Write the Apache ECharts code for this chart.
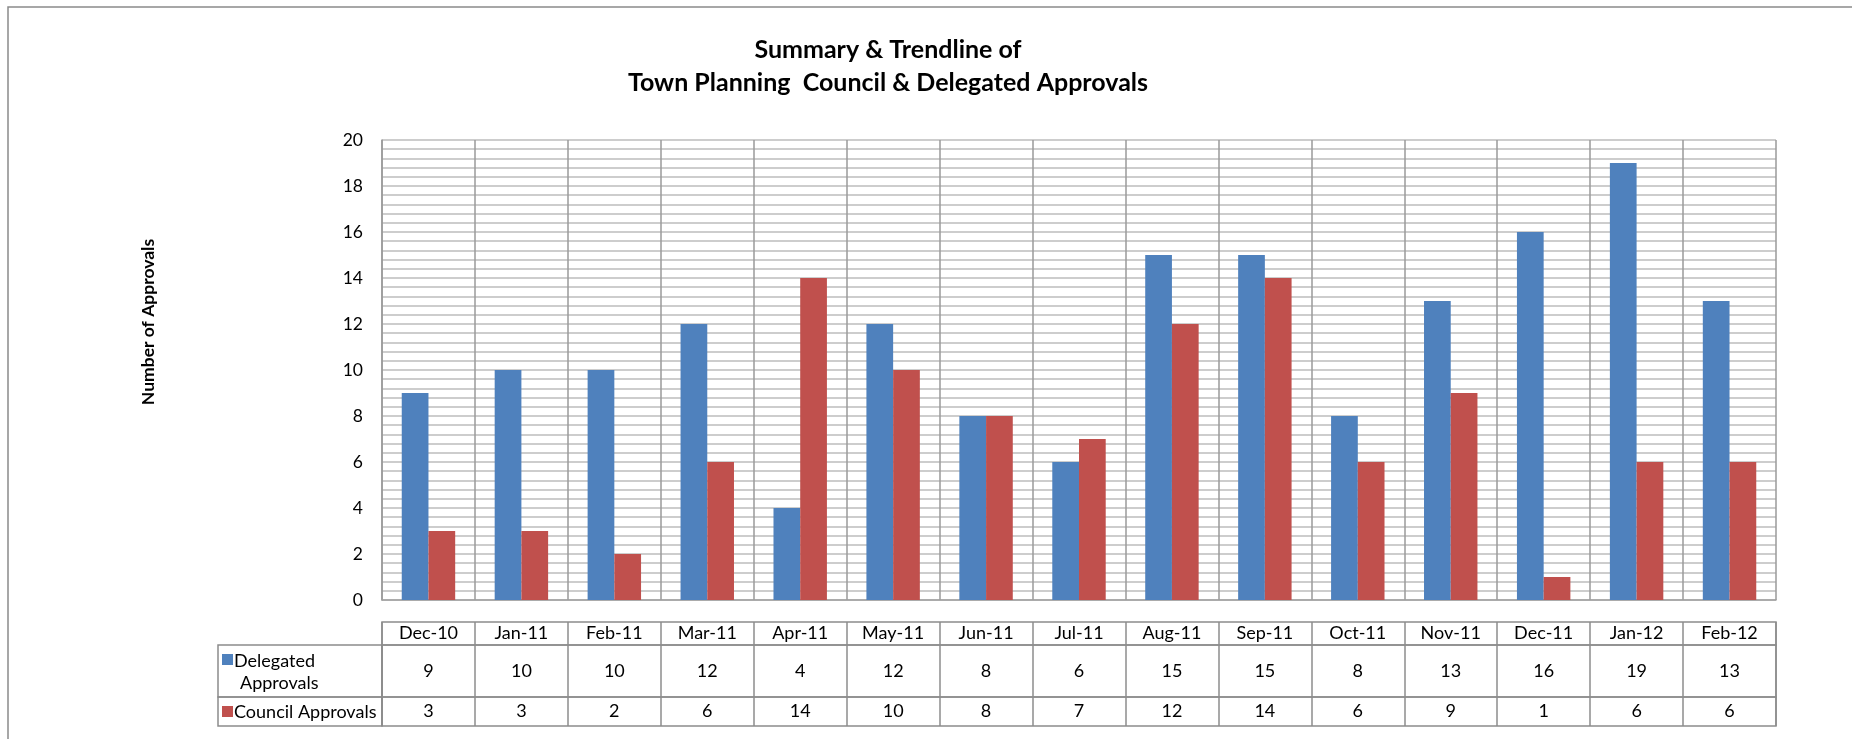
<!DOCTYPE html>
<html>
<head>
<meta charset="utf-8">
<title>Town Planning Approvals</title>
<script src="https://cdn.jsdelivr.net/npm/echarts@6/dist/echarts.min.js"></script>
<style>
  html, body { margin: 0; padding: 0; background: #ffffff; }
  #chart { width: 1852px; height: 739px; }
</style>
</head>
<body>
<div id="chart"></div>
<script>
// Monthly approvals, December 2010 to February 2012
const months = ['Dec-10', 'Jan-11', 'Feb-11', 'Mar-11', 'Apr-11', 'May-11', 'Jun-11', 'Jul-11',
                'Aug-11', 'Sep-11', 'Oct-11', 'Nov-11', 'Dec-11', 'Jan-12', 'Feb-12'];
const delegatedApprovals = [9, 10, 10, 12, 4, 12, 8, 6, 15, 15, 8, 13, 16, 19, 13];
const councilApprovals = [3, 3, 2, 6, 14, 10, 8, 7, 12, 14, 6, 9, 1, 6, 6];
const seriesNames = ['Delegated Approvals', 'Council Approvals'];
const seriesColors = ['#4F81BD', '#C0504D'];
const yTicks = { min: 0, max: 20, interval: 2 };

const FONT = 'Lato, "Open Sans", sans-serif';
const LINE = '#8c8c8c';

// Plot area and the three rows of the data table underneath it
const plotLeft = 382, plotWidth = 1394;
const plotTop = 140, plotHeight = 460;
const rows = [
  { top: 622, height: 23 },  // month headers
  { top: 645, height: 52 },  // delegated values
  { top: 697, height: 29 }   // council values
];
const legendLeft = 218;

const chart = echarts.init(document.getElementById('chart'), null, { renderer: 'canvas' });

// One table row: a grid whose category axis prints the cell texts
function tableAxis(gridIndex, labels, rowHeight) {
  return {
    type: 'category',
    gridIndex: gridIndex,
    data: labels,
    boundaryGap: true,
    axisLine: { show: false },
    axisTick: { show: false },
    splitLine: { show: true, interval: 0, lineStyle: { color: LINE, width: 1.5 } },
    axisLabel: {
      interval: 0,
      inside: true,
      margin: rowHeight / 2,
      verticalAlign: 'middle',
      color: '#000',
      fontFamily: FONT,
      fontSize: 18
    }
  };
}

const tableGrids = rows.map(r => ({
  left: plotLeft, top: r.top, width: plotWidth, height: r.height,
  show: true, borderColor: LINE, borderWidth: 1.5, backgroundColor: 'transparent'
}));

const option = {
  backgroundColor: '#ffffff',
  animation: false,
  title: {
    text: 'Summary & Trendline of\nTown Planning  Council & Delegated Approvals',
    left: 883,
    top: 28,
    textAlign: 'center',
    textStyle: { fontFamily: FONT, fontWeight: 'bold', fontSize: 25, lineHeight: 33, color: '#000' }
  },
  grid: [
    { left: plotLeft, top: plotTop, width: plotWidth, height: plotHeight, show: false },
    ...tableGrids
  ],
  xAxis: [
    {
      type: 'category',
      gridIndex: 0,
      data: months,
      boundaryGap: true,
      axisLine: { show: true, lineStyle: { color: '#a0a0a0', width: 1.5 } },
      axisTick: { show: false },
      axisLabel: { show: false },
      splitLine: { show: true, interval: 0, lineStyle: { color: '#9a9a9a', width: 1.5 } }
    },
    tableAxis(1, months, rows[0].height),
    tableAxis(2, delegatedApprovals.map(String), rows[1].height),
    tableAxis(3, councilApprovals.map(String), rows[2].height)
  ],
  yAxis: [
    {
      type: 'value',
      gridIndex: 0,
      min: yTicks.min,
      max: yTicks.max,
      interval: yTicks.interval,
      axisLine: { show: true, lineStyle: { color: '#9a9a9a', width: 1.5 } },
      axisTick: { show: false },
      axisLabel: { margin: 19, color: '#000', fontFamily: FONT, fontSize: 17.5 },
      splitLine: { show: true, lineStyle: { color: '#bdbdbd', width: 1.5 } },
      minorTick: { show: false, splitNumber: 5 },
      minorSplitLine: { show: true, lineStyle: { color: '#bdbdbd', width: 1.5 } }
    },
    { type: 'value', gridIndex: 1, show: false },
    { type: 'value', gridIndex: 2, show: false },
    { type: 'value', gridIndex: 3, show: false }
  ],
  series: [
    {
      name: seriesNames[0],
      type: 'bar',
      xAxisIndex: 0,
      yAxisIndex: 0,
      data: delegatedApprovals,
      barGap: '0%',
      barCategoryGap: '42.5%',
      itemStyle: { color: seriesColors[0] }
    },
    {
      name: seriesNames[1],
      type: 'bar',
      xAxisIndex: 0,
      yAxisIndex: 0,
      data: councilApprovals,
      barGap: '0%',
      barCategoryGap: '42.5%',
      itemStyle: { color: seriesColors[1] }
    }
  ],
  graphic: [
    // chart area frame
    {
      type: 'rect', silent: true, z: 0,
      shape: { x: 8, y: 7, width: 1900, height: 800 },
      style: { fill: null, stroke: '#8a8a8a', lineWidth: 1.5 }
    },
    // value axis title
    {
      type: 'text', silent: true, z: 5,
      x: 148, y: 322, rotation: Math.PI / 2,
      style: {
        text: 'Number of Approvals',
        font: 'bold 17.5px ' + FONT,
        fill: '#000',
        textAlign: 'center',
        textVerticalAlign: 'middle'
      }
    },
    // legend key cells to the left of the value rows
    {
      type: 'rect', silent: true, z: 5,
      shape: { x: legendLeft, y: rows[1].top, width: plotLeft - legendLeft, height: rows[1].height },
      style: { fill: null, stroke: LINE, lineWidth: 1.5 }
    },
    {
      type: 'rect', silent: true, z: 5,
      shape: { x: legendLeft, y: rows[2].top, width: plotLeft - legendLeft, height: rows[2].height },
      style: { fill: null, stroke: LINE, lineWidth: 1.5 }
    },
    {
      type: 'rect', silent: true, z: 5,
      shape: { x: legendLeft + 4, y: rows[1].top + 9, width: 11, height: 11 },
      style: { fill: seriesColors[0] }
    },
    {
      type: 'rect', silent: true, z: 5,
      shape: { x: legendLeft + 4, y: rows[2].top + 9, width: 11, height: 11 },
      style: { fill: seriesColors[1] }
    },
    {
      type: 'text', silent: true, z: 5,
      x: legendLeft + 16, y: rows[1].top + 16,
      style: { text: 'Delegated', font: '18px ' + FONT, fill: '#000', textVerticalAlign: 'middle' }
    },
    {
      type: 'text', silent: true, z: 5,
      x: legendLeft + 22, y: rows[1].top + 38,
      style: { text: 'Approvals', font: '18px ' + FONT, fill: '#000', textVerticalAlign: 'middle' }
    },
    {
      type: 'text', silent: true, z: 5,
      x: legendLeft + 16, y: rows[2].top + 15,
      style: { text: seriesNames[1], font: '18px ' + FONT, fill: '#000', textVerticalAlign: 'middle' }
    }
  ]
};

chart.setOption(option);
</script>
</body>
</html>
